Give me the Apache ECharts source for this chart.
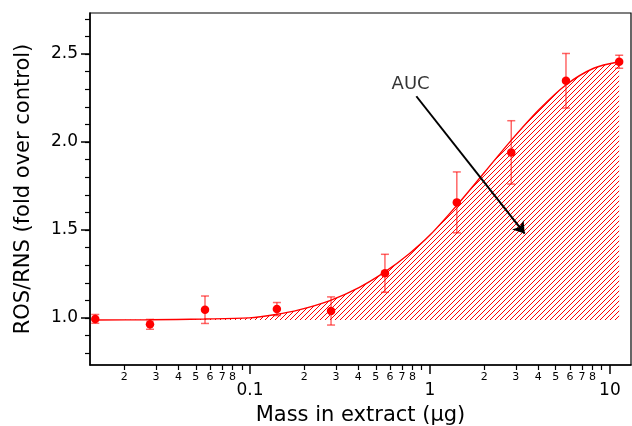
<!DOCTYPE html>
<html><head><meta charset="utf-8">
<script src="https://cdn.jsdelivr.net/npm/echarts@6/dist/echarts.min.js"></script>
<style>html,body{margin:0;padding:0;background:#fff}#c{width:632px;height:426px}</style>
</head><body><div id="c"></div>
<script>
// measured points (mass in µg, fold over control, error)
const massX = [0.0138, 0.0278, 0.0562, 0.141, 0.282, 0.562, 1.41, 2.83, 5.7, 11.26];
const rosY = [0.995, 0.964, 1.047, 1.051, 1.040, 1.254, 1.657, 1.941, 2.348, 2.456];
const rosErr = [0.025, 0.028, 0.078, 0.037, 0.080, 0.108, 0.173, 0.180, 0.155, 0.037];
// fitted curve
const fitX = [0.0136, 0.0275, 0.0556, 0.0988, 0.139, 0.187, 0.278, 0.403, 0.562, 0.764, 1.0, 1.41, 1.995, 2.82, 4.03, 5.69, 8.13, 11.26];
const fitY = [0.989, 0.990, 0.994, 1.001, 1.020, 1.046, 1.099, 1.173, 1.262, 1.364, 1.471, 1.640, 1.824, 2.008, 2.183, 2.324, 2.419, 2.456];
const fillBase = 0.988;
// ticks
const yMajorTicks = [1.0, 1.5, 2.0, 2.5];
const yMinorTicks = [0.8, 0.9, 1.0, 1.1, 1.2, 1.3, 1.4, 1.5, 1.6, 1.7, 1.8, 1.9, 2.0, 2.1, 2.2, 2.3, 2.4, 2.5, 2.6, 2.7];
const xMajorTicks = [0.1, 1, 10];
const xMinorTicks = [0.02, 0.03, 0.04, 0.05, 0.06, 0.07, 0.08, 0.09, 0.2, 0.3, 0.4, 0.5, 0.6, 0.7, 0.8, 0.9, 2, 3, 4, 5, 6, 7, 8, 9];
const xMinorLabels = [0.02, 0.03, 0.04, 0.05, 0.06, 0.07, 0.08, 0.2, 0.3, 0.4, 0.5, 0.6, 0.7, 0.8, 2, 3, 4, 5, 6, 7, 8];
// annotation
const arrowFrom = [0.84, 2.26];
const arrowTo = [3.36, 1.48];
const annotationAt = [0.781, 2.33];
const annotationText = 'AUC';

function hatch() {
  const s = 5;
  const c = document.createElement('canvas');
  c.width = s; c.height = s;
  const g = c.getContext('2d');
  g.strokeStyle = '#ff0000'; g.lineWidth = 1;
  g.beginPath();
  g.moveTo(0, s); g.lineTo(s, 0);
  g.moveTo(-1, 1); g.lineTo(1, -1);
  g.moveTo(s - 1, s + 1); g.lineTo(s + 1, s - 1);
  g.stroke();
  return c;
}
const FONT = 'DejaVu Sans';
const xMin = 0.0129, xMax = 13.1, yMin = 0.733, yMax = 2.733;
function leadDigit(v) {
  const e = Math.floor(Math.log10(v) + 1e-9);
  return String(Math.round(v / Math.pow(10, e)));
}
const chart = echarts.init(document.getElementById('c'), null, {renderer: 'canvas'});
chart.setOption({
  animation: false,
  backgroundColor: '#fff',
  grid: {left: 90, right: 1, top: 13, bottom: 61, show: true, borderColor: '#000', borderWidth: 1.2,
         containLabel: false, outerBoundsMode: 'none'},
  xAxis: [
    {type: 'log', logBase: 10, min: xMin, max: xMax, position: 'bottom',
     axisLine: {show: true, lineStyle: {color: '#000', width: 1.5}},
     axisTick: {show: true, customValues: xMinorTicks, length: 5, lineStyle: {color: '#000', width: 1.2}},
     axisLabel: {show: true, customValues: xMinorLabels, formatter: leadDigit, fontSize: 11, margin: 7, color: '#000', fontFamily: FONT},
     splitLine: {show: false}, minorTick: {show: false}},
    {type: 'log', logBase: 10, min: xMin, max: xMax, position: 'bottom',
     axisLine: {show: false},
     axisTick: {show: true, customValues: xMajorTicks, length: 9, lineStyle: {color: '#000', width: 1.5}},
     axisLabel: {show: true, customValues: xMajorTicks, formatter: v => String(v), fontSize: 17, margin: 17, color: '#000', fontFamily: FONT},
     splitLine: {show: false},
     name: 'Mass in extract (μg)', nameLocation: 'middle', nameGap: 40,
     nameTextStyle: {fontSize: 21, color: '#000', fontFamily: FONT}}
  ],
  yAxis: [
    {type: 'value', min: yMin, max: yMax, position: 'left',
     axisLine: {show: true, lineStyle: {color: '#000', width: 1.5}},
     axisTick: {show: true, customValues: yMajorTicks, length: 9, lineStyle: {color: '#000', width: 1.5}},
     axisLabel: {show: true, customValues: yMajorTicks, formatter: v => v.toFixed(1), fontSize: 17, margin: 12, color: '#000', fontFamily: FONT},
     splitLine: {show: false},
     name: 'ROS/RNS (fold over control)', nameLocation: 'middle', nameGap: 56,
     nameTextStyle: {fontSize: 21, color: '#000', fontFamily: FONT}},
    {type: 'value', min: yMin, max: yMax, position: 'left',
     axisLine: {show: false},
     axisTick: {show: true, customValues: yMinorTicks, length: 5, lineStyle: {color: '#000', width: 1.2}},
     axisLabel: {show: false}, splitLine: {show: false}}
  ],
  series: [
    {type: 'line', name: 'fit', xAxisIndex: 0, yAxisIndex: 0, smooth: 0.3, showSymbol: false, symbol: 'none',
     data: fitX.map((x, i) => [x, fitY[i]]),
     lineStyle: {color: '#ff0000', width: 1.4},
     areaStyle: {color: {image: hatch(), repeat: 'repeat'}, origin: fillBase, opacity: 1},
     z: 2,
     markLine: {silent: true, symbol: ['none', 'arrow'], symbolSize: 11, symbolOffset: 0,
       lineStyle: {color: '#000', width: 2, type: 'solid'}, itemStyle: {color: '#000'}, label: {show: false},
       data: [[{coord: arrowFrom}, {coord: arrowTo}]]}},
    {type: 'custom', name: 'err', xAxisIndex: 0, yAxisIndex: 0, z: 3,
     data: massX.map((x, i) => [x, rosY[i], rosErr[i]]),
     encode: {x: 0, y: 1},
     renderItem: function (params, api) {
       const x = api.value(0), y = api.value(1), e = api.value(2);
       const t = api.coord([x, y + e]), b = api.coord([x, y - e]);
       const w = 4, st = {stroke: 'rgba(255,0,0,0.6)', lineWidth: 1.5};
       return {type: 'group', children: [
         {type: 'line', shape: {x1: t[0], y1: t[1], x2: b[0], y2: b[1]}, style: st},
         {type: 'line', shape: {x1: t[0] - w, y1: t[1], x2: t[0] + w, y2: t[1]}, style: st},
         {type: 'line', shape: {x1: b[0] - w, y1: b[1], x2: b[0] + w, y2: b[1]}, style: st}
       ]};
     }},
    {type: 'scatter', name: 'points', xAxisIndex: 0, yAxisIndex: 0, z: 4, symbolSize: 8.5,
     itemStyle: {color: '#ff0000', opacity: 1},
     data: massX.map((x, i) => [x, rosY[i]])},
    {type: 'scatter', name: 'label', xAxisIndex: 0, yAxisIndex: 0, z: 5, symbolSize: 0,
     data: [annotationAt],
     label: {show: true, position: 'inside', formatter: annotationText, fontSize: 18, color: '#000',
             textBorderWidth: 0, fontFamily: FONT}}
  ]
});
</script></body></html>
